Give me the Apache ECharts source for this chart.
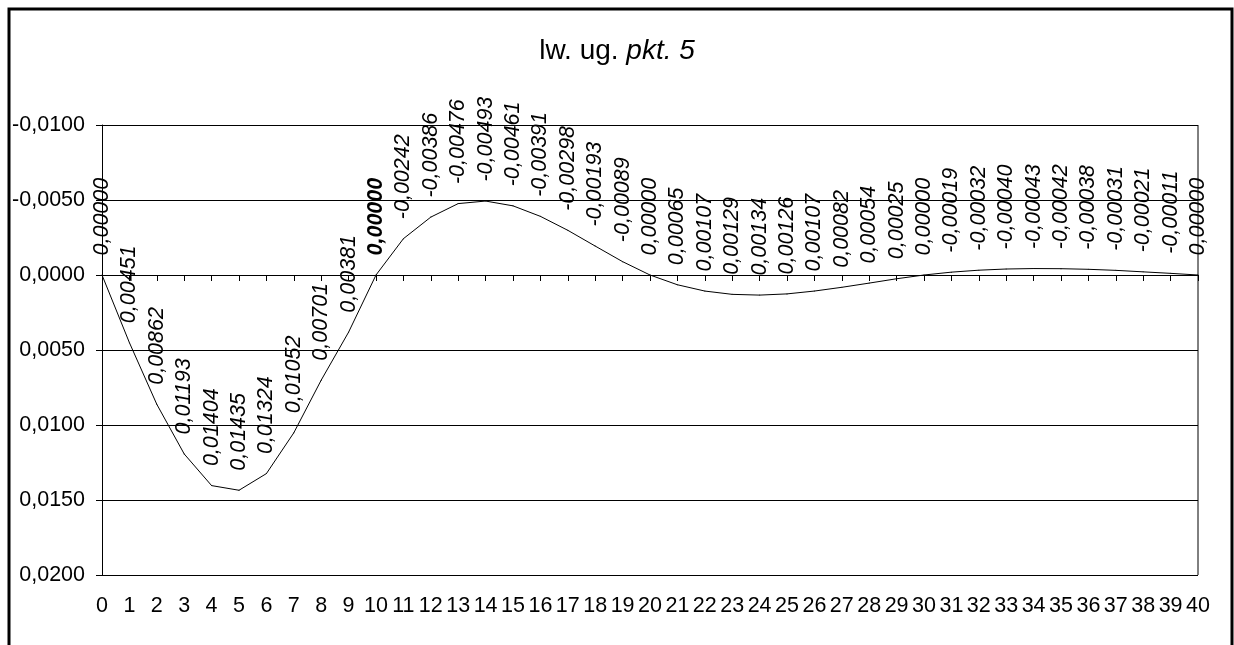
<!DOCTYPE html>
<html>
<head>
<meta charset="utf-8">
<script src="https://cdn.jsdelivr.net/npm/echarts@6/dist/echarts.min.js"></script>
<style>
html,body{margin:0;padding:0;background:#fff;}
#c{width:1234px;height:645px;}
</style>
</head>
<body>
<div id="c"></div>
<script>
const categories = ['0','1','2','3','4','5','6','7','8','9','10','11','12','13','14','15','16','17','18','19','20','21','22','23','24','25','26','27','28','29','30','31','32','33','34','35','36','37','38','39','40'];
const values = [0.00000, 0.00451, 0.00862, 0.01193, 0.01404, 0.01435, 0.01324, 0.01052, 0.00701, 0.00381,
  0.00000, -0.00242, -0.00386, -0.00476, -0.00493, -0.00461, -0.00391, -0.00298, -0.00193, -0.00089,
  0.00000, 0.00065, 0.00107, 0.00129, 0.00134, 0.00126, 0.00107, 0.00082, 0.00054, 0.00025,
  0.00000, -0.00019, -0.00032, -0.00040, -0.00043, -0.00042, -0.00038, -0.00031, -0.00021, -0.00011, 0.00000];
const boldLabelIndices = [10];
const yTicks = [-0.01, -0.005, 0, 0.005, 0.01, 0.015, 0.02];

const FONT = 'Liberation Sans, Arial, sans-serif';
const fmt = (v, d) => {
  let s = Math.abs(v).toFixed(d).replace('.', ',');
  return (v < -1e-12 ? '-' : '') + s;
};

const seriesData = values.map((v, i) => ({
  value: v,
  label: boldLabelIndices.includes(i) ? {fontWeight: 'bold'} : {}
}));

const chart = echarts.init(document.getElementById('c'), null, {renderer: 'canvas'});
chart.setOption({
  animation: false,
  backgroundColor: '#fff',
  title: {
    text: 'lw. ug. {i|pkt. 5}',
    left: 'center',
    top: 32,
    textStyle: {
      fontFamily: FONT, fontSize: 28, fontWeight: 'normal', color: '#000',
      rich: {i: {fontFamily: FONT, fontSize: 28, fontStyle: 'italic', color: '#000'}}
    }
  },
  graphic: [{
    type: 'rect',
    shape: {x: 9, y: 9, width: 1223, height: 680},
    style: {fill: 'none', stroke: '#000', lineWidth: 3},
    silent: true, z: 100
  }, {
    type: 'line',
    shape: {x1: 1198, y1: 125, x2: 1198, y2: 575},
    style: {stroke: '#000', lineWidth: 1},
    silent: true, z: 50
  }],
  grid: {left: 102, right: 36, top: 125, bottom: 70, containLabel: false},
  xAxis: {
    type: 'category',
    data: categories,
    boundaryGap: false,
    axisLine: {show: true, lineStyle: {color: '#000', width: 1}},
    axisTick: {show: true, inside: false, length: 6, interval: 0, lineStyle: {color: '#000'}},
    axisLabel: {interval: 0, margin: 20, fontFamily: FONT, fontSize: 21.5, color: '#000'},
    splitLine: {show: false}
  },
  yAxis: {
    type: 'value',
    inverse: true,
    min: yTicks[0],
    max: yTicks[yTicks.length - 1],
    interval: 0.005,
    axisLine: {show: true, lineStyle: {color: '#000', width: 1}},
    axisTick: {show: true, inside: false, length: 6, lineStyle: {color: '#000'}},
    axisLabel: {margin: 17, fontFamily: FONT, fontSize: 21.5, color: '#000',
      formatter: v => fmt(v, 4)},
    splitLine: {show: true, lineStyle: {color: '#000', width: 1}}
  },
  series: [{
    type: 'line',
    data: seriesData,
    symbol: 'circle',
    symbolSize: 1,
    itemStyle: {color: '#000'},
    lineStyle: {color: '#000', width: 1},
    label: {
      show: true,
      position: 'top',
      distance: 19,
      rotate: 90,
      align: 'left',
      verticalAlign: 'middle',
      fontFamily: FONT,
      fontSize: 21.5,
      fontStyle: 'italic',
      color: '#000',
      formatter: p => fmt(p.value, 5)
    },
    labelLayout: {hideOverlap: false}
  }]
});
</script>
</body>
</html>
